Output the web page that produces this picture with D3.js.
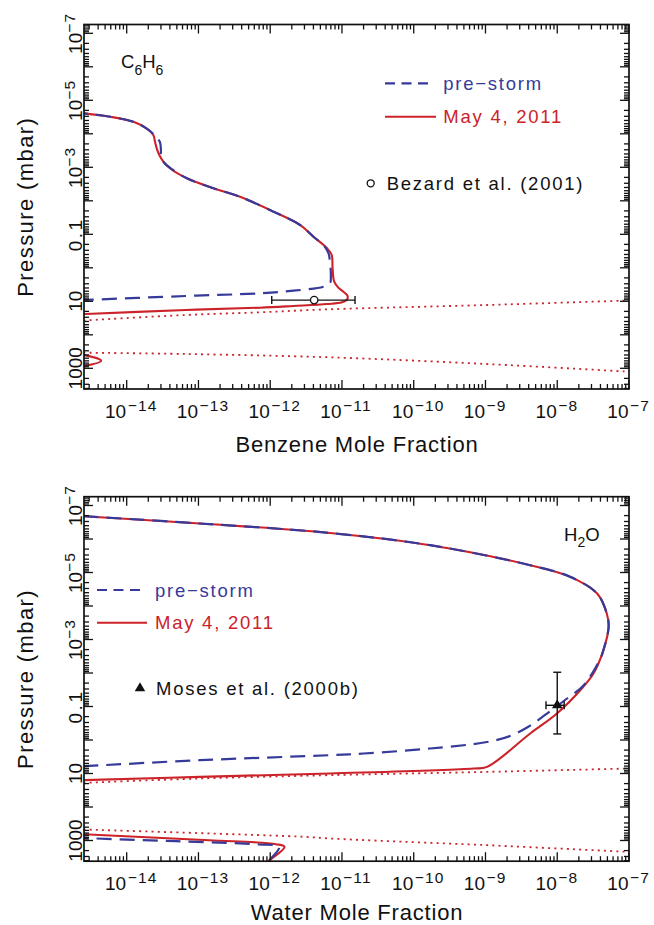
<!DOCTYPE html>
<html><head><meta charset="utf-8">
<script src="https://cdn.jsdelivr.net/npm/d3@7"></script>
<style>
body{margin:0;background:#fff}
svg{display:block}
text{font-family:"Liberation Sans",Arial,Helvetica,sans-serif;fill:#111}
</style>
</head><body>
<svg id="c" width="654" height="925"></svg>
<script>
// ---------------- DATA (mole fraction, pressure in mbar) ----------------
const xTickExponents = [-14,-13,-12,-11,-10,-9,-8,-7];
const yTickLabels = [[1e-7,"10","−7"],[1e-5,"10","−5"],[1e-3,"10","−3"],[0.1,"0.1",""],[10,"10",""],[1000,"1000",""]];
const legendLabels = ["pre−storm","May 4, 2011"];

const benzeneMay2011 = [
 [1.8e-15,2.3e-5],[2.5e-15,2.44e-5],[5.9e-15,3.1e-5],[1.24e-14,4.4e-5],[1.88e-14,6.9e-5],
 [2.35e-14,1.09e-4],[2.48e-14,1.72e-4],[2.62e-14,2.71e-4],[2.85e-14,4.3e-4],[3.24e-14,6.8e-4],
 [4.0e-14,1.07e-3],[6.9e-14,2.13e-3],[1.61e-13,4.2e-3],[3.8e-13,7.6e-3],[1.11e-12,0.0211],
 [2.6e-12,0.0527],[4.0e-12,0.118],[6.2e-12,0.262],[7.2e-12,0.415],[7.4e-12,1.04],
 [7.8e-12,2.6],[8.9e-12,3.9],[1.05e-11,5.2],[1.19e-11,6.8],[1.19e-11,8.5],
 [1.0e-11,10.7],[6.2e-12,12.1],[2.1e-12,13.8],[7.2e-13,15.5],[6.7e-14,18.2],
 [2.7e-15,23.9],[3e-16,30],[3e-16,330],[2.5e-15,401],[4.4e-15,593],[2.5e-15,853],[3e-16,1100]
];
const benzenePreStorm = [
 [1.8e-15,2.3e-5],[2.5e-15,2.44e-5],[5.9e-15,3.1e-5],[1.24e-14,4.4e-5],[1.88e-14,6.9e-5],
 [2.45e-14,1.1e-4],[2.9e-14,1.76e-4],[3.0e-14,3.05e-4],[3.0e-14,4.9e-4],[3.35e-14,7.4e-4],
 [4.1e-14,1.07e-3],[6.9e-14,2.13e-3],[1.61e-13,4.2e-3],[3.8e-13,7.6e-3],[1.11e-12,0.0211],
 [2.6e-12,0.0527],[4.0e-12,0.118],[5.5e-12,0.21],[6.5e-12,0.369],[6.8e-12,0.658],
 [7.0e-12,1.64],[6.8e-12,2.9],[5.5e-12,3.66],[2.1e-12,4.83],[7.2e-13,5.77],
 [6.7e-14,6.95],[2.7e-15,9.1],[3e-16,11]
];
const benzeneCondUpper = [[2.5e-15,37.4],[6.7e-14,25.6],[7.2e-13,21.3],[6.8e-12,17.3],[1.05e-9,12.9],[1e-7,9.45]];
const benzeneCondLower = [[2.5e-15,342],[6.7e-14,374],[6.8e-12,470],[1.05e-9,745],[1e-7,1265]];
const bezardPoint = [4.1e-12, 9.2];
const bezardXRange = [1.05e-12, 1.52e-11];

const waterMay2011 = [
 [1.2e-15,1.88e-7],[2.5e-15,2.08e-7],[1.05e-13,3.44e-7],[6.8e-12,6.6e-7],[1.7e-10,1.53e-6],
 [4.2e-9,6.05e-6],[1.52e-8,1.35e-5],[3.6e-8,4.24e-5],[4.9e-8,1.67e-4],[5.2e-8,4.2e-4],
 [4.4e-8,2.08e-3],[3.2e-8,0.0104],[2.2e-8,0.029],[9.9e-9,0.162],[4.2e-9,0.64],
 [1.05e-9,6.35],[6.8e-10,7.1],[6.8e-12,10.0],[1.05e-13,12.6],[2.5e-15,15.8],
 [3e-16,19],[3e-16,500],[2.5e-15,649],[1.41e-13,980],[1.2e-12,1290],[1.58e-12,1550],
 [9.2e-13,4350],[5.8e-13,10700]
];
const waterPreStorm = [
 [1.2e-15,1.88e-7],[2.5e-15,2.08e-7],[1.05e-13,3.44e-7],[6.8e-12,6.6e-7],[1.7e-10,1.53e-6],
 [4.2e-9,6.05e-6],[1.52e-8,1.35e-5],[3.6e-8,4.24e-5],[4.9e-8,1.67e-4],[5.2e-8,4.2e-4],
 [4.4e-8,2.08e-3],[4.0e-8,3.7e-3],[2.34e-8,0.0231],[1.37e-8,0.0577],[7.2e-9,0.162],
 [3.9e-9,0.409],[2.19e-9,0.76],[1.05e-9,1.15],[1.7e-10,1.79],[2.0e-11,2.53],
 [6.8e-12,2.84],[1.05e-13,4.0],[2.5e-15,6.05],[3e-16,7.5],[3e-16,600],[2.5e-15,836],
 [4.9e-14,1050],[7.0e-13,1315],[1.33e-12,1550],[9.2e-13,4350],[5.8e-13,10700]
];
const waterCondUpper = [[2.5e-15,19.1],[1.05e-13,14.1],[6.8e-12,11.2],[1.05e-9,8.95],[1e-7,7.1]];
const waterCondLower = [[2.5e-15,470],[3.2e-12,782],[6.8e-12,871],[1.05e-9,1380],[1e-7,2190]];
const mosesPoint = [1.0e-8, 0.092];
const mosesXRange = [6.97e-9, 1.25e-8];
const mosesPRange = [9.5e-3, 0.66];

// ---------------- LAYOUT ----------------
const RED = "#cc2229", BLUE = "#363a9a";
const X0 = 84, X1 = 629, PH = 364.5;
const X_DOMAIN = [Math.pow(10,-14.595), 1e-7];
const Y_DOMAIN = [Math.pow(10,-7.263), Math.pow(10,3.618)];
const svg = d3.select("#c");

function isMajor(v){const l=Math.log10(v);return Math.abs(l-Math.round(l))<1e-6;}

function panel(o){
  const top=o.top, bot=top+PH;
  const x=d3.scaleLog().domain(X_DOMAIN).range([X0,X1]);
  const y=d3.scaleLog().domain(Y_DOMAIN).range([top,bot]);
  svg.append("clipPath").attr("id","cp"+o.id).append("rect")
    .attr("x",X0).attr("y",top).attr("width",X1-X0).attr("height",PH);
  const pg=svg.append("g").attr("clip-path",`url(#cp${o.id})`);
  const line=d3.line().x(d=>x(d[0])).y(d=>y(d[1])).curve(d3.curveCatmullRom.alpha(0.5));
  o.dotted.forEach(s=>pg.append("path").attr("d",line(s)).attr("fill","none")
    .attr("stroke",RED).attr("stroke-width",1.8).attr("stroke-dasharray","2,4.2"));
  pg.append("path").attr("d",line(o.may)).attr("fill","none").attr("stroke",RED).attr("stroke-width",2.1);
  pg.append("path").attr("d",line(o.pre)).attr("fill","none").attr("stroke",BLUE)
    .attr("stroke-width",2.2).attr("stroke-dasharray","15,8");

  // observation
  const og=svg.append("g").attr("stroke","#111").attr("stroke-width",1.4).attr("fill","none");
  const ox=x(o.obs[0]), oy=y(o.obs[1]);
  og.append("line").attr("x1",x(o.obsX[0])).attr("x2",x(o.obsX[1])).attr("y1",oy).attr("y2",oy);
  [o.obsX[0],o.obsX[1]].forEach(v=>og.append("line").attr("x1",x(v)).attr("x2",x(v)).attr("y1",oy-4).attr("y2",oy+4));
  if(o.obsP){
    og.append("line").attr("x1",ox).attr("x2",ox).attr("y1",y(o.obsP[0])).attr("y2",y(o.obsP[1]));
    o.obsP.forEach(v=>og.append("line").attr("x1",ox-4).attr("x2",ox+4).attr("y1",y(v)).attr("y2",y(v)));
  }
  if(o.obsSym==="circle"){
    svg.append("circle").attr("cx",ox).attr("cy",oy).attr("r",3.7).attr("fill","#fff").attr("stroke","#111").attr("stroke-width",1.3);
  } else {
    svg.append("path").attr("d",d3.symbol(d3.symbolTriangle,48)()).attr("transform",`translate(${ox},${oy})`).attr("fill","#111");
  }

  // frame and ticks
  const ag=svg.append("g").attr("stroke","#111");
  ag.append("rect").attr("x",X0).attr("y",top).attr("width",X1-X0).attr("height",PH)
    .attr("fill","none").attr("stroke-width",1.7);
  x.ticks(20).forEach(v=>{
    const L=isMajor(v)?9:5, px=x(v);
    ag.append("line").attr("x1",px).attr("x2",px).attr("y1",bot).attr("y2",bot-L).attr("stroke-width",1.3);
    ag.append("line").attr("x1",px).attr("x2",px).attr("y1",top).attr("y2",top+L).attr("stroke-width",1.3);
  });
  y.ticks(20).forEach(v=>{
    const L=isMajor(v)?9:5, py=y(v);
    ag.append("line").attr("x1",X0).attr("x2",X0+L).attr("y1",py).attr("y2",py).attr("stroke-width",1.3);
    ag.append("line").attr("x1",X1).attr("x2",X1-L).attr("y1",py).attr("y2",py).attr("stroke-width",1.3);
  });

  // x tick labels
  xTickExponents.forEach(e=>{
    const px=x(Math.pow(10,e));
    svg.append("text").attr("x",px-0.5).attr("y",bot+28.5).attr("text-anchor","end")
      .attr("font-size",19).text("10");
    svg.append("text").attr("x",px+1).attr("y",bot+21.9).attr("text-anchor","start")
      .attr("font-size",15.5).attr("letter-spacing",1.2).text("−"+Math.abs(e));
  });
  // y tick labels
  yTickLabels.forEach(t=>{
    const g=svg.append("g").attr("transform",`translate(81.5,${y(t[0])}) rotate(-90)`);
    const tx=g.append("text").attr("text-anchor","middle").attr("font-size",19).attr("letter-spacing",t[1]==="0.1"?2.5:0);
    tx.append("tspan").text(t[1]);
    if(t[2]) tx.append("tspan").attr("font-size",15.5).attr("dy",-6.6).attr("letter-spacing",1.2).text(t[2]);
  });
  // axis titles
  svg.append("text").attr("x",357).attr("y",bot+o.xTitleDy).attr("text-anchor","middle")
    .attr("font-size",22).attr("letter-spacing",0.8).text(o.xTitle);
  svg.append("text").attr("transform",`translate(33,${(top+bot)/2}) rotate(-90)`)
    .attr("text-anchor","middle").attr("font-size",22).attr("letter-spacing",1.4).text("Pressure (mbar)");

  // species label
  const sp=svg.append("text").attr("x",o.species.x).attr("y",top+o.species.dy).attr("font-size",18.5);
  o.species.parts.forEach(p=>{
    const ts=sp.append("tspan").text(p[0]);
    if(p[1]==="sub") ts.attr("font-size",14).attr("dy",6.7);
    if(p[1]==="up") ts.attr("dy",-6.7);
  });

  // legend
  const L=o.legend;
  svg.append("line").attr("x1",L.x1).attr("x2",L.x2).attr("y1",L.y1).attr("y2",L.y1)
    .attr("stroke",BLUE).attr("stroke-width",2.2).attr("stroke-dasharray","10,6.5");
  svg.append("text").attr("x",L.tx).attr("y",L.y1+6.8).attr("font-size",18.5).attr("letter-spacing",1.75)
    .style("fill",BLUE).text(legendLabels[0]);
  svg.append("line").attr("x1",L.x1).attr("x2",L.x2r).attr("y1",L.y2).attr("y2",L.y2)
    .attr("stroke",RED).attr("stroke-width",2.1);
  svg.append("text").attr("x",L.tx).attr("y",L.y2+6.3).attr("font-size",18.5).attr("letter-spacing",1.75)
    .style("fill",RED).text(legendLabels[1]);
  if(o.obsSym==="circle"){
    svg.append("circle").attr("cx",L.sx).attr("cy",L.sy).attr("r",3.5).attr("fill","none").attr("stroke","#111").attr("stroke-width",1.3);
  } else {
    svg.append("path").attr("d",d3.symbol(d3.symbolTriangle,48)()).attr("transform",`translate(${L.sx},${L.sy})`).attr("fill","#111");
  }
  svg.append("text").attr("x",L.stx).attr("y",L.sy+6.3).attr("font-size",18.5).attr("letter-spacing",1.75).text(o.obsLabel);
}

panel({
  id:"a", top:24.5, may:benzeneMay2011, pre:benzenePreStorm, dotted:[benzeneCondUpper,benzeneCondLower],
  obs:bezardPoint, obsX:bezardXRange, obsP:null, obsSym:"circle", obsLabel:"Bezard et al. (2001)",
  xTitle:"Benzene Mole Fraction", xTitleDy:62.5,
  species:{x:121, dy:43.8, parts:[["C",""],["6","sub"],["H","up"],["6","sub"]]},
  legend:{x1:385,x2:432,x2r:436,y1:83.3,y2:116.7,tx:443.3,sx:370.7,sy:183.3,stx:386.7}
});
panel({
  id:"b", top:496.7, may:waterMay2011, pre:waterPreStorm, dotted:[waterCondUpper,waterCondLower],
  obs:mosesPoint, obsX:mosesXRange, obsP:mosesPRange, obsSym:"triangle", obsLabel:"Moses et al. (2000b)",
  xTitle:"Water Mole Fraction", xTitleDy:58.8,
  species:{x:564, dy:44, parts:[["H",""],["2","sub"],["O","up"]]},
  legend:{x1:97,x2:143.3,x2r:147,y1:590,y2:622.7,tx:155,sx:140,sy:688.3,stx:156}
});
</script>
</body></html>
